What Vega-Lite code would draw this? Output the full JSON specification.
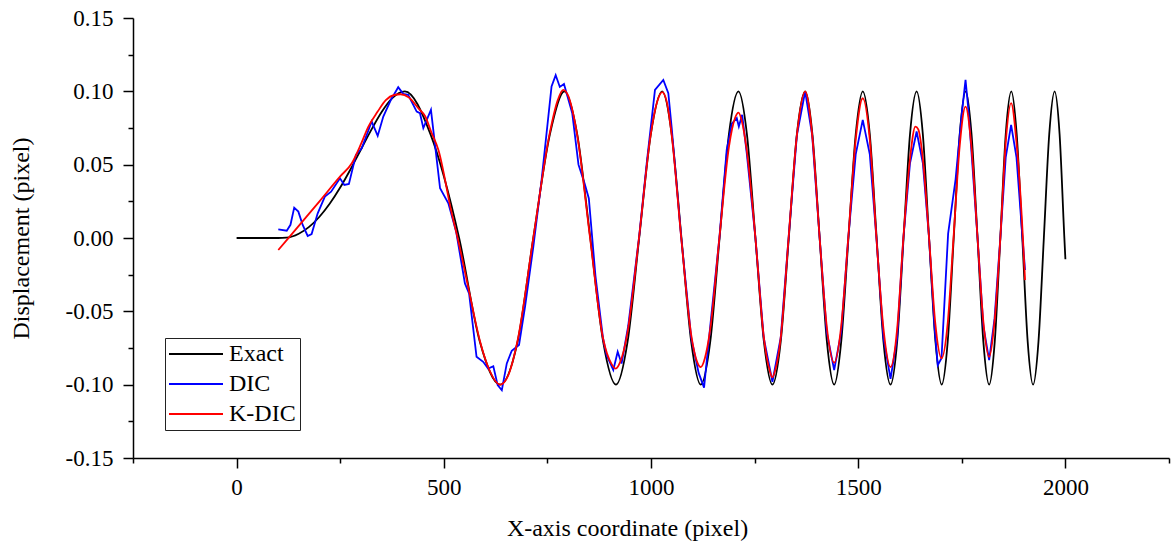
{
  "$schema": "https://vega.github.io/schema/vega-lite/v6.json",
  "width": 1036,
  "height": 440,
  "autosize": {"type": "none"},
  "padding": {"left": 133, "top": 18, "right": 4, "bottom": 88},
  "config": {
    "view": {"stroke": null},
    "axis": {
      "domainColor": "#000000", "domainWidth": 1.5, "tickColor": "#000000", "tickWidth": 1.5,
      "labelFont": "Liberation Serif", "labelFontSize": 23, "labelColor": "#000000",
      "titleFont": "Liberation Serif", "titleFontSize": 24, "titleFontWeight": "normal", "titleColor": "#000000",
      "grid": false, "labelFlush": false, "labelOverlap": false, "labelBound": false
    }
  },
  "data": {"values": [
    {"s":"Exact","x":0,"y":0},{"s":"Exact","x":100,"y":0},{"s":"Exact","x":120,"y":0.0002},{"s":"Exact","x":150,"y":0.0029},
    {"s":"Exact","x":175,"y":0.0076},{"s":"Exact","x":200,"y":0.0145},{"s":"Exact","x":225,"y":0.0235},{"s":"Exact","x":250,"y":0.0344},
    {"s":"Exact","x":275,"y":0.0469},{"s":"Exact","x":300,"y":0.0603},{"s":"Exact","x":325,"y":0.0737},{"s":"Exact","x":350,"y":0.0859},
    {"s":"Exact","x":375,"y":0.0952},{"s":"Exact","x":406,"y":0.1},{"s":"Exact","x":468,"y":0.0707},{"s":"Exact","x":537,"y":0},
    {"s":"Exact","x":587,"y":-0.0707},{"s":"Exact","x":636,"y":-0.1},{"s":"Exact","x":678,"y":-0.0707},{"s":"Exact","x":716,"y":0},
    {"s":"Exact","x":756,"y":0.0707},{"s":"Exact","x":791,"y":0.1},{"s":"Exact","x":822,"y":0.0707},{"s":"Exact","x":853.5,"y":0},
    {"s":"Exact","x":884.5,"y":-0.0707},{"s":"Exact","x":915.5,"y":-0.1},{"s":"Exact","x":943.5,"y":-0.0707},{"s":"Exact","x":971.5,"y":0},
    {"s":"Exact","x":999.5,"y":0.0707},{"s":"Exact","x":1027,"y":0.1},{"s":"Exact","x":1050,"y":0.0707},{"s":"Exact","x":1073.5,"y":0},
    {"s":"Exact","x":1097,"y":-0.0707},{"s":"Exact","x":1120,"y":-0.1},{"s":"Exact","x":1143,"y":-0.0707},{"s":"Exact","x":1165.5,"y":0},
    {"s":"Exact","x":1188,"y":0.0707},{"s":"Exact","x":1211,"y":0.1},{"s":"Exact","x":1231.5,"y":0.0707},{"s":"Exact","x":1252,"y":0},
    {"s":"Exact","x":1272.5,"y":-0.0707},{"s":"Exact","x":1293,"y":-0.1},{"s":"Exact","x":1313,"y":-0.0707},{"s":"Exact","x":1332.5,"y":0},
    {"s":"Exact","x":1352,"y":0.0707},{"s":"Exact","x":1372,"y":0.1},{"s":"Exact","x":1389.5,"y":0.0707},{"s":"Exact","x":1407,"y":0},
    {"s":"Exact","x":1424.5,"y":-0.0707},{"s":"Exact","x":1442,"y":-0.1},{"s":"Exact","x":1459,"y":-0.0707},{"s":"Exact","x":1476.5,"y":0},
    {"s":"Exact","x":1494,"y":0.0707},{"s":"Exact","x":1511,"y":0.1},{"s":"Exact","x":1528,"y":0.0707},{"s":"Exact","x":1544.5,"y":0},
    {"s":"Exact","x":1561,"y":-0.0707},{"s":"Exact","x":1578,"y":-0.1},{"s":"Exact","x":1594,"y":-0.0707},{"s":"Exact","x":1609.5,"y":0},
    {"s":"Exact","x":1625,"y":0.0707},{"s":"Exact","x":1641,"y":0.1},{"s":"Exact","x":1656,"y":0.0707},{"s":"Exact","x":1671,"y":0},
    {"s":"Exact","x":1686.5,"y":-0.0707},{"s":"Exact","x":1701.5,"y":-0.1},{"s":"Exact","x":1716,"y":-0.0707},{"s":"Exact","x":1730.5,"y":0},
    {"s":"Exact","x":1745,"y":0.0707},{"s":"Exact","x":1759.5,"y":0.1},{"s":"Exact","x":1773.5,"y":0.0707},{"s":"Exact","x":1788,"y":0},
    {"s":"Exact","x":1802,"y":-0.0707},{"s":"Exact","x":1816,"y":-0.1},{"s":"Exact","x":1829.5,"y":-0.0707},{"s":"Exact","x":1843,"y":0},
    {"s":"Exact","x":1856,"y":0.0707},{"s":"Exact","x":1869.5,"y":0.1},{"s":"Exact","x":1882.5,"y":0.0707},{"s":"Exact","x":1896,"y":0},
    {"s":"Exact","x":1909,"y":-0.0707},{"s":"Exact","x":1922,"y":-0.1},{"s":"Exact","x":1935,"y":-0.0707},{"s":"Exact","x":1948,"y":0},
    {"s":"Exact","x":1961,"y":0.0707},{"s":"Exact","x":1974,"y":0.1},{"s":"Exact","x":1986,"y":0.0707},{"s":"Exact","x":1997.5,"y":0},
    {"s":"Exact","x":2000,"y":-0.0145},

    {"s":"DIC","x":100.6,"y":0.0059},{"s":"DIC","x":121,"y":0.005},{"s":"DIC","x":130,"y":0.009},{"s":"DIC","x":139,"y":0.0207},
    {"s":"DIC","x":149,"y":0.018},{"s":"DIC","x":159.5,"y":0.0089},{"s":"DIC","x":171.5,"y":0.0014},{"s":"DIC","x":181,"y":0.0027},
    {"s":"DIC","x":195.7,"y":0.0168},{"s":"DIC","x":213,"y":0.0282},{"s":"DIC","x":228,"y":0.0316},{"s":"DIC","x":249.5,"y":0.0407},
    {"s":"DIC","x":260,"y":0.0362},{"s":"DIC","x":271,"y":0.0369},{"s":"DIC","x":288,"y":0.0567},{"s":"DIC","x":302,"y":0.0612},
    {"s":"DIC","x":326,"y":0.0794},{"s":"DIC","x":340.5,"y":0.0696},{"s":"DIC","x":354,"y":0.0828},{"s":"DIC","x":372,"y":0.094},
    {"s":"DIC","x":390,"y":0.1028},{"s":"DIC","x":402,"y":0.0983},{"s":"DIC","x":414,"y":0.0976},{"s":"DIC","x":434.6,"y":0.0862},
    {"s":"DIC","x":442.5,"y":0.0851},{"s":"DIC","x":450.6,"y":0.0749},{"s":"DIC","x":469,"y":0.0874},{"s":"DIC","x":491,"y":0.0339},
    {"s":"DIC","x":511,"y":0.0237},{"s":"DIC","x":530,"y":0.004},{"s":"DIC","x":551,"y":-0.031},{"s":"DIC","x":561,"y":-0.0378},
    {"s":"DIC","x":579,"y":-0.081},{"s":"DIC","x":595,"y":-0.0844},{"s":"DIC","x":607,"y":-0.089},{"s":"DIC","x":619.5,"y":-0.0874},
    {"s":"DIC","x":630,"y":-0.1003},{"s":"DIC","x":640,"y":-0.1038},{"s":"DIC","x":652,"y":-0.0855},{"s":"DIC","x":664,"y":-0.0769},
    {"s":"DIC","x":681.5,"y":-0.073},{"s":"DIC","x":696,"y":-0.0469},{"s":"DIC","x":716,"y":-0.006},{"s":"DIC","x":736,"y":0.0396},
    {"s":"DIC","x":760,"y":0.1033},{"s":"DIC","x":770,"y":0.111},{"s":"DIC","x":780,"y":0.103},{"s":"DIC","x":790,"y":0.105},
    {"s":"DIC","x":810,"y":0.085},{"s":"DIC","x":825,"y":0.05},{"s":"DIC","x":840,"y":0.037},{"s":"DIC","x":850,"y":0.027},
    {"s":"DIC","x":866,"y":-0.026},{"s":"DIC","x":884,"y":-0.068},{"s":"DIC","x":893,"y":-0.08},{"s":"DIC","x":909,"y":-0.09},
    {"s":"DIC","x":919.6,"y":-0.0776},{"s":"DIC","x":929,"y":-0.0856},{"s":"DIC","x":945,"y":-0.06},{"s":"DIC","x":971,"y":0},
    {"s":"DIC","x":990,"y":0.052},{"s":"DIC","x":1009.6,"y":0.101},{"s":"DIC","x":1029.7,"y":0.1078},{"s":"DIC","x":1041.8,"y":0.0988},
    {"s":"DIC","x":1050,"y":0.075},{"s":"DIC","x":1073,"y":0},{"s":"DIC","x":1097,"y":-0.068},{"s":"DIC","x":1115,"y":-0.092},
    {"s":"DIC","x":1128,"y":-0.102},{"s":"DIC","x":1143,"y":-0.06},{"s":"DIC","x":1165,"y":0},{"s":"DIC","x":1182.6,"y":0.06},
    {"s":"DIC","x":1195,"y":0.078},{"s":"DIC","x":1207,"y":0.0817},{"s":"DIC","x":1212,"y":0.076},{"s":"DIC","x":1220,"y":0.084},
    {"s":"DIC","x":1231,"y":0.058},{"s":"DIC","x":1252,"y":0},{"s":"DIC","x":1272,"y":-0.068},{"s":"DIC","x":1293,"y":-0.098},
    {"s":"DIC","x":1313,"y":-0.068},{"s":"DIC","x":1332,"y":0},{"s":"DIC","x":1352,"y":0.07},{"s":"DIC","x":1372,"y":0.1},
    {"s":"DIC","x":1389,"y":0.07},{"s":"DIC","x":1407,"y":0},{"s":"DIC","x":1424,"y":-0.064},{"s":"DIC","x":1442,"y":-0.09},
    {"s":"DIC","x":1459,"y":-0.064},{"s":"DIC","x":1476,"y":0},{"s":"DIC","x":1494,"y":0.057},{"s":"DIC","x":1511,"y":0.0805},
    {"s":"DIC","x":1528,"y":0.057},{"s":"DIC","x":1544,"y":0},{"s":"DIC","x":1561,"y":-0.068},{"s":"DIC","x":1578,"y":-0.096},
    {"s":"DIC","x":1594,"y":-0.068},{"s":"DIC","x":1609,"y":0},{"s":"DIC","x":1625,"y":0.051},{"s":"DIC","x":1641,"y":0.0726},
    {"s":"DIC","x":1656,"y":0.051},{"s":"DIC","x":1671,"y":0},{"s":"DIC","x":1684,"y":-0.06},{"s":"DIC","x":1692,"y":-0.0867},
    {"s":"DIC","x":1701,"y":-0.082},{"s":"DIC","x":1717,"y":0.003},{"s":"DIC","x":1735,"y":0.04},{"s":"DIC","x":1750,"y":0.085},
    {"s":"DIC","x":1759,"y":0.1078},{"s":"DIC","x":1765,"y":0.09},{"s":"DIC","x":1773,"y":0.06},{"s":"DIC","x":1788,"y":0},
    {"s":"DIC","x":1802,"y":-0.06},{"s":"DIC","x":1816,"y":-0.0833},{"s":"DIC","x":1829,"y":-0.055},{"s":"DIC","x":1843,"y":0},
    {"s":"DIC","x":1856,"y":0.055},{"s":"DIC","x":1869,"y":0.0771},{"s":"DIC","x":1882,"y":0.055},{"s":"DIC","x":1896,"y":0.002},
    {"s":"DIC","x":1902.6,"y":-0.0218},

    {"s":"K-DIC","x":100.6,"y":-0.0082},{"s":"K-DIC","x":150,"y":0.0083},{"s":"K-DIC","x":200,"y":0.025},{"s":"K-DIC","x":250,"y":0.042},
    {"s":"K-DIC","x":278,"y":0.051},{"s":"K-DIC","x":300,"y":0.064},{"s":"K-DIC","x":318,"y":0.076},{"s":"K-DIC","x":340,"y":0.086},
    {"s":"K-DIC","x":360,"y":0.094},{"s":"K-DIC","x":380,"y":0.0975},{"s":"K-DIC","x":396,"y":0.098},{"s":"K-DIC","x":415,"y":0.096},
    {"s":"K-DIC","x":440,"y":0.088},{"s":"K-DIC","x":455,"y":0.083},{"s":"K-DIC","x":470,"y":0.072},{"s":"K-DIC","x":487,"y":0.06},
    {"s":"K-DIC","x":519,"y":0.017},{"s":"K-DIC","x":535,"y":-0.002},{"s":"K-DIC","x":560,"y":-0.035},{"s":"K-DIC","x":587,"y":-0.07},
    {"s":"K-DIC","x":610,"y":-0.09},{"s":"K-DIC","x":636,"y":-0.1},{"s":"K-DIC","x":655,"y":-0.094},{"s":"K-DIC","x":678,"y":-0.07},
    {"s":"K-DIC","x":716,"y":0},{"s":"K-DIC","x":756,"y":0.072},{"s":"K-DIC","x":775,"y":0.094},{"s":"K-DIC","x":788,"y":0.101},
    {"s":"K-DIC","x":800,"y":0.097},{"s":"K-DIC","x":822,"y":0.07},{"s":"K-DIC","x":853,"y":0},{"s":"K-DIC","x":884,"y":-0.068},
    {"s":"K-DIC","x":905,"y":-0.086},{"s":"K-DIC","x":915,"y":-0.089},{"s":"K-DIC","x":925,"y":-0.085},{"s":"K-DIC","x":943,"y":-0.065},
    {"s":"K-DIC","x":971,"y":0},{"s":"K-DIC","x":999,"y":0.07},{"s":"K-DIC","x":1015,"y":0.093},{"s":"K-DIC","x":1027,"y":0.0995},
    {"s":"K-DIC","x":1038,"y":0.093},{"s":"K-DIC","x":1050,"y":0.07},{"s":"K-DIC","x":1073,"y":0},{"s":"K-DIC","x":1097,"y":-0.066},
    {"s":"K-DIC","x":1112,"y":-0.085},{"s":"K-DIC","x":1120,"y":-0.088},{"s":"K-DIC","x":1130,"y":-0.082},{"s":"K-DIC","x":1143,"y":-0.062},
    {"s":"K-DIC","x":1165,"y":0},{"s":"K-DIC","x":1188,"y":0.062},{"s":"K-DIC","x":1203,"y":0.082},{"s":"K-DIC","x":1211,"y":0.0855},
    {"s":"K-DIC","x":1219,"y":0.08},{"s":"K-DIC","x":1231,"y":0.06},{"s":"K-DIC","x":1252,"y":0},{"s":"K-DIC","x":1272,"y":-0.067},
    {"s":"K-DIC","x":1287,"y":-0.091},{"s":"K-DIC","x":1293,"y":-0.095},{"s":"K-DIC","x":1300,"y":-0.09},{"s":"K-DIC","x":1313,"y":-0.068},
    {"s":"K-DIC","x":1332,"y":0},{"s":"K-DIC","x":1352,"y":0.07},{"s":"K-DIC","x":1372,"y":0.1},{"s":"K-DIC","x":1389,"y":0.07},
    {"s":"K-DIC","x":1407,"y":0},{"s":"K-DIC","x":1424,"y":-0.06},{"s":"K-DIC","x":1442,"y":-0.085},{"s":"K-DIC","x":1459,"y":-0.06},
    {"s":"K-DIC","x":1476,"y":0},{"s":"K-DIC","x":1494,"y":0.067},{"s":"K-DIC","x":1511,"y":0.0953},{"s":"K-DIC","x":1528,"y":0.067},
    {"s":"K-DIC","x":1544,"y":0},{"s":"K-DIC","x":1561,"y":-0.062},{"s":"K-DIC","x":1578,"y":-0.088},{"s":"K-DIC","x":1594,"y":-0.062},
    {"s":"K-DIC","x":1609,"y":0},{"s":"K-DIC","x":1625,"y":0.054},{"s":"K-DIC","x":1638,"y":0.076},{"s":"K-DIC","x":1645,"y":0.074},
    {"s":"K-DIC","x":1656,"y":0.054},{"s":"K-DIC","x":1671,"y":0},{"s":"K-DIC","x":1686,"y":-0.058},{"s":"K-DIC","x":1701,"y":-0.082},
    {"s":"K-DIC","x":1716,"y":-0.058},{"s":"K-DIC","x":1730,"y":0},{"s":"K-DIC","x":1745,"y":0.063},{"s":"K-DIC","x":1759,"y":0.0896},
    {"s":"K-DIC","x":1773,"y":0.063},{"s":"K-DIC","x":1788,"y":0},{"s":"K-DIC","x":1802,"y":-0.057},{"s":"K-DIC","x":1816,"y":-0.081},
    {"s":"K-DIC","x":1829,"y":-0.057},{"s":"K-DIC","x":1843,"y":0},{"s":"K-DIC","x":1856,"y":0.065},{"s":"K-DIC","x":1869,"y":0.092},
    {"s":"K-DIC","x":1882,"y":0.065},{"s":"K-DIC","x":1897.5,"y":0},{"s":"K-DIC","x":1902.6,"y":-0.0287}
  ]},
  "encoding": {
    "x": {
      "field": "x", "type": "quantitative",
      "scale": {"domain": [-250, 2250], "nice": false, "zero": false},
      "axis": {
        "title": "X-axis coordinate (pixel)",
        "values": [-250, 0, 250, 500, 750, 1000, 1250, 1500, 1750, 2000, 2250],
        "labelExpr": "datum.value % 500 == 0 ? format(datum.value, 'd') : ''",
        "tickSize": {"condition": {"test": "datum.value % 500 == 0", "value": 10}, "value": 5},
        "labelPadding": 8,
        "titleX": 494, "titleY": 77, "titleAlign": "center", "titleBaseline": "alphabetic"
      }
    },
    "y": {
      "field": "y", "type": "quantitative",
      "scale": {"domain": [-0.15, 0.15], "nice": false, "zero": false},
      "axis": {
        "title": "Displacement (pixel)",
        "values": [-0.15, -0.125, -0.1, -0.075, -0.05, -0.025, 0, 0.025, 0.05, 0.075, 0.1, 0.125, 0.15],
        "labelExpr": "abs(datum.value*20 - round(datum.value*20)) < 0.001 ? replace(format(datum.value, '.2f'), '\u2212', '-') : ''",
        "tickSize": {"condition": {"test": "abs(datum.value*20 - round(datum.value*20)) < 0.001", "value": 10}, "value": 5},
        "labelPadding": 10,
        "titleAngle": 270, "titleX": -105, "titleY": 220, "titleAlign": "center", "titleBaseline": "alphabetic"
      }
    },
    "color": {
      "field": "s", "type": "nominal",
      "scale": {"domain": ["Exact", "DIC", "K-DIC"], "range": ["#000000", "#0000ff", "#ff0000"]},
      "legend": {
        "title": null, "orient": "none", "legendX": 32, "legendY": 320,
        "strokeColor": "#222222", "fillColor": "#ffffff", "padding": 4, "rowPadding": 6,
        "labelFont": "Liberation Serif", "labelFontSize": 24, "labelColor": "#000000", "labelOffset": 21,
        "symbolType": "M-3,0H3", "symbolSize": 324, "symbolStrokeWidth": 2, "symbolOffset": 15
      }
    }
  },
  "layer": [
    {"transform": [{"filter": "datum.s == 'Exact'"}], "mark": {"type": "line", "interpolate": "monotone", "strokeWidth": 1.8}},
    {"transform": [{"filter": "datum.s == 'DIC'"}], "mark": {"type": "line", "strokeWidth": 1.8}},
    {"transform": [{"filter": "datum.s == 'K-DIC'"}], "mark": {"type": "line", "interpolate": "monotone", "strokeWidth": 1.8}}
  ]
}
